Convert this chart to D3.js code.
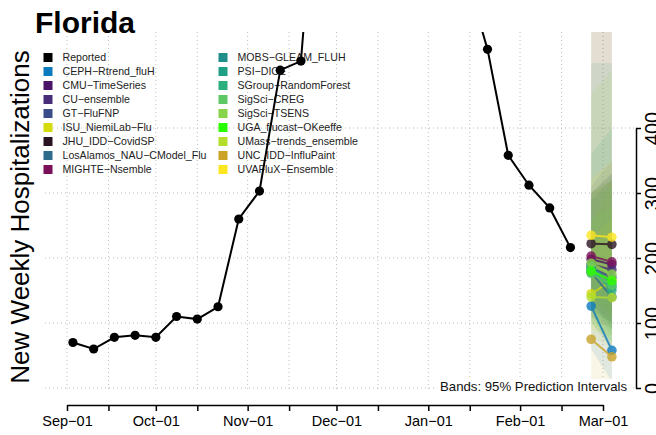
<!DOCTYPE html>
<html><head><meta charset="utf-8">
<script src="https://cdn.jsdelivr.net/npm/d3@7"></script>
<style>
html,body{margin:0;padding:0;background:#fff;}
svg{display:block;font-family:"Liberation Sans",Arial,Helvetica,sans-serif;}
</style></head>
<body>
<script>
// ---------------- data ----------------
const reportedDates = ["2022-09-03","2022-09-10","2022-09-17","2022-09-24","2022-10-01","2022-10-08","2022-10-15","2022-10-22","2022-10-29","2022-11-05","2022-11-12","2022-11-19","2022-11-26","2022-12-03","2022-12-10","2022-12-17","2022-12-24","2022-12-31","2023-01-07","2023-01-14","2023-01-21","2023-01-28","2023-02-04","2023-02-11","2023-02-18"];
const reportedValues = [70,60,78,81,78,110,106,125,260,303,489,503,900,1150,1050,950,860,800,720,632,521,358,312,277,216];

const models = ["CEPH\u2212Rtrend_fluH","CMU\u2212TimeSeries","CU\u2212ensemble","GT\u2212FluFNP","ISU_NiemiLab\u2212Flu","JHU_IDD\u2212CovidSP","LosAlamos_NAU\u2212CModel_Flu","MIGHTE\u2212Nsemble","MOBS\u2212GLEAM_FLUH","PSI\u2212DICE","SGroup\u2212RandomForest","SigSci\u2212CREG","SigSci\u2212TSENS","UGA_flucast\u2212OKeeffe","UMass\u2212trends_ensemble","UNC_IDD\u2212InfluPaint","UVAFluX\u2212Ensemble"];
const modelColors = ["#0C7BBD","#4A1366","#482E78","#3A4D8A","#D4DA0C","#2A1424","#2E6C8E","#7B1059","#1E8F8A","#1EA086","#2BB07D","#5DC863","#86D549","#2AFF00","#B4DE2C","#C9A227","#FDE51F"];
const forecastDates = ["2023-02-25","2023-03-04"];
const medianWk1 = [126,198,190,185,145,222,178,203,180,188,183,176,192,180,140,75,235];
const medianWk2 = [58,190,182,170,165,221,140,194,155,160,150,158,175,165,139,48,232];
const lowerWk1 = [60,140,130,130,90,120,100,110,120,130,110,120,140,100,80,10,170];
const lowerWk2 = [10,110,100,95,80,100,60,90,80,90,70,90,110,70,60,0,150];
const upperWk1 = [220,300,290,310,250,600,300,300,360,500,290,260,451,300,230,600,320];
const upperWk2 = [160,330,320,350,320,700,330,320,400,500,310,280,489,320,260,650,350];

const xTickDates = ["2022-09-01","2022-09-15","2022-10-01","2022-10-15","2022-11-01","2022-11-15","2022-12-01","2022-12-15","2023-01-01","2023-01-15","2023-02-01","2023-02-15","2023-03-01"];
const xTickLabels = ["Sep\u221201","","Oct\u221201","","Nov\u221201","","Dec\u221201","","Jan\u221201","","Feb\u221201","","Mar\u221201"];
const yTicks = [0,100,200,300,400];

// ---------------- drawing ----------------
const W = 656, H = 435;
const P = {left:45, right:636, top:32, bottom:392};
const parse = d3.utcParse("%Y-%m-%d");
const x = d3.scaleUtc().domain([parse("2022-09-01"), parse("2023-03-01")]).range([67, 603]);
const y = d3.scaleLinear().domain([0, 400]).range([388, 128]);

const svg = d3.select("body").append("svg").attr("width", W).attr("height", H);
svg.append("defs").append("clipPath").attr("id","clip")
  .append("rect").attr("x",P.left).attr("y",P.top).attr("width",P.right-P.left).attr("height",P.bottom-P.top);

// grid
const grid = svg.append("g").attr("stroke","#BDBDBD").attr("stroke-width",1).attr("stroke-dasharray","1,3");
yTicks.forEach(v => grid.append("line").attr("x1",P.left).attr("x2",P.right).attr("y1",y(v)).attr("y2",y(v)));
xTickDates.forEach(d => grid.append("line").attr("x1",x(parse(d))).attr("x2",x(parse(d))).attr("y1",P.top).attr("y2",P.bottom));

// title
svg.append("text").attr("x",35).attr("y",33).attr("font-size",30).attr("font-weight","bold").attr("fill","#000").text("Florida");

// y label
svg.append("text").attr("transform","translate(29,217) rotate(-90)").attr("text-anchor","middle")
  .attr("font-size",26).attr("fill","#000").text("New Weekly Hospitalizations");

// legend
const legendNames = ["Reported"].concat(models);
const legendColors = ["#000000"].concat(modelColors);
const lg = svg.append("g").attr("font-size",10.6).attr("fill","#222");
legendNames.forEach((n,i) => {
  const col = i < 9 ? 0 : 1;
  const row = i % 9;
  const bx = col === 0 ? 43.5 : 218.5;
  const cy = 57.5 + row*14;
  lg.append("rect").attr("x",bx).attr("y",cy-4.5).attr("width",9).attr("height",9).attr("fill",legendColors[i]);
  lg.append("text").attr("x",bx+19).attr("y",cy+3.8).text(n);
});

// bands
const plot = svg.append("g").attr("clip-path","url(#clip)");
const d1 = parse(forecastDates[0]), d2 = parse(forecastDates[1]);
models.forEach((m,i) => {
  const pts = [[x(d1),y(upperWk1[i])],[x(d2),y(upperWk2[i])],[x(d2),y(lowerWk2[i])],[x(d1),y(lowerWk1[i])]];
  plot.append("path").attr("d", d3.line()(pts)+"Z").attr("fill",modelColors[i]).attr("fill-opacity",0.11).attr("stroke","none");
});

// reported
const rep = reportedDates.map((d,i)=>({d:parse(d), v:reportedValues[i]}));
plot.append("path").datum(rep).attr("d", d3.line().x(p=>x(p.d)).y(p=>y(p.v)))
  .attr("fill","none").attr("stroke","#000").attr("stroke-width",2);
plot.selectAll("circle.rep").data(rep).join("circle").attr("class","rep")
  .attr("cx",p=>x(p.d)).attr("cy",p=>y(p.v)).attr("r",4.6).attr("fill","#000");

// forecasts
models.forEach((m,i) => {
  const g = plot.append("g").attr("opacity",0.8);
  g.append("line").attr("x1",x(d1)).attr("y1",y(medianWk1[i])).attr("x2",x(d2)).attr("y2",y(medianWk2[i]))
    .attr("stroke",modelColors[i]).attr("stroke-width",2);
  g.append("circle").attr("cx",x(d1)).attr("cy",y(medianWk1[i])).attr("r",4.8).attr("fill",modelColors[i]);
  g.append("circle").attr("cx",x(d2)).attr("cy",y(medianWk2[i])).attr("r",4.8).attr("fill",modelColors[i]);
});

// bands label
svg.append("rect").attr("x",434).attr("y",379).attr("width",196).attr("height",15).attr("fill","#fff");
svg.append("text").attr("x",627).attr("y",390.5).attr("text-anchor","end").attr("font-size",13.2).attr("fill","#111")
  .text("Bands: 95% Prediction Intervals");

// x axis
const xAxis = d3.axisBottom(x).tickValues(xTickDates.map(parse)).tickSize(6).tickSizeOuter(0)
  .tickFormat((d,i)=>xTickLabels[i]);
const gx = svg.append("g").attr("transform","translate(0,405)").call(xAxis);
gx.select(".domain").attr("stroke","#000").attr("stroke-width",1.5);
gx.selectAll(".tick line").attr("stroke","#000").attr("stroke-width",1.5);
gx.selectAll(".tick text").attr("font-size",14.5).attr("fill","#000").attr("dy",0).attr("y",21)
  .attr("font-family","'Liberation Sans',Arial,sans-serif");

// y axis (right)
const yAxis = d3.axisRight(y).tickValues(yTicks).tickSize(5).tickSizeOuter(0).tickFormat(d3.format("d"));
const gy = svg.append("g").attr("transform","translate(636,0)").call(yAxis);
gy.select(".domain").attr("stroke","#000").attr("stroke-width",1.5);
gy.selectAll(".tick line").attr("stroke","#000").attr("stroke-width",1.5);
gy.selectAll(".tick text").attr("font-size",20).attr("fill","#000")
  .attr("font-family","'Liberation Sans',Arial,sans-serif")
  .attr("x",null).attr("dy",null).attr("text-anchor","middle")
  .attr("transform","translate(23,0) rotate(-90)").attr("y",0);
</script>
</body></html>
